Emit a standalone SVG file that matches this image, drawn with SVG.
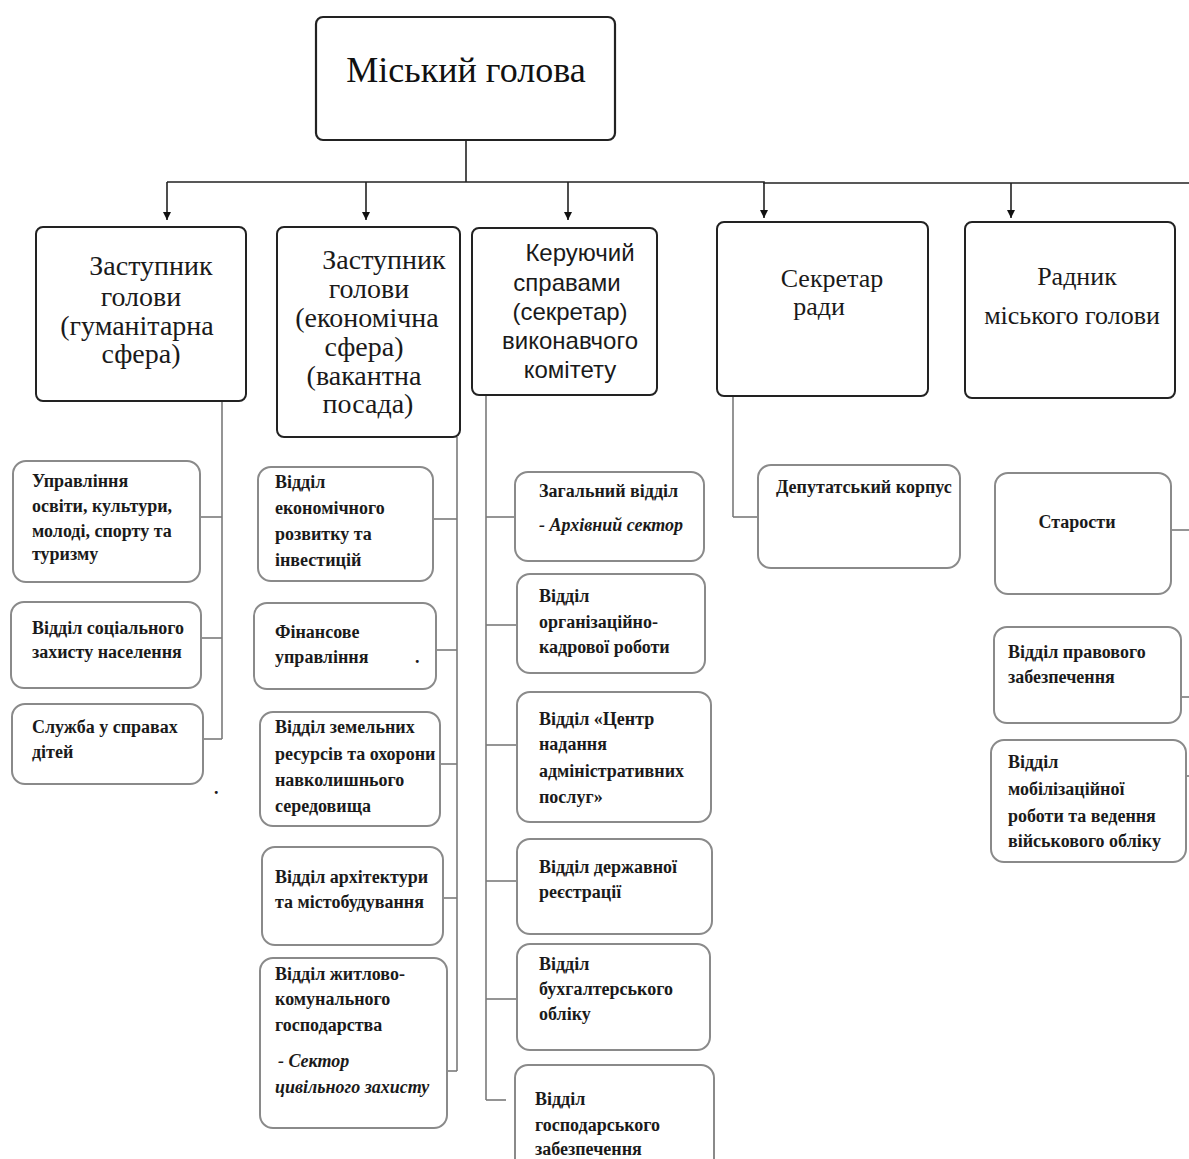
<svg xmlns="http://www.w3.org/2000/svg" width="1189" height="1159" viewBox="0 0 1189 1159">
<defs>
<marker id="arr" viewBox="0 0 10 10" refX="10" refY="5" markerWidth="8" markerHeight="8" markerUnits="userSpaceOnUse" orient="auto">
<path d="M0,0 L10,5 L0,10 z" fill="#111"/>
</marker>
<style>
.top{fill:#fff;stroke:#222;stroke-width:2.2}
.l2{fill:#fff;stroke:#222;stroke-width:2}
.l3{fill:#fff;stroke:#8a8a8a;stroke-width:2}
.c1{fill:none;stroke:#222;stroke-width:1.6}
.c2{fill:none;stroke:#7a7a7a;stroke-width:1.6}
.tt{font-family:"Liberation Serif",serif;font-size:36px;fill:#111}
.s2{font-family:"Liberation Serif",serif;font-size:28px;fill:#1a1a1a;text-anchor:middle}
.ss{font-family:"Liberation Sans",sans-serif;font-size:24px;fill:#1a1a1a;text-anchor:middle}
.s4{font-family:"Liberation Serif",serif;font-size:26px;fill:#1a1a1a;text-anchor:middle}
.b{font-family:"Liberation Serif",serif;font-size:18px;font-weight:bold;fill:#1a1a1a}
.bi{font-family:"Liberation Serif",serif;font-size:18px;font-weight:bold;font-style:italic;fill:#1a1a1a}
</style>
</defs>
<g id="connectors">
<line class="c1" x1="466" y1="140" x2="466" y2="182"/>
<polyline class="c1" points="167,182 764,182 764,183 983,183 1189,183"/>
<line class="c1" x1="167" y1="182" x2="167" y2="220" marker-end="url(#arr)"/>
<line class="c1" x1="366" y1="182" x2="366" y2="220" marker-end="url(#arr)"/>
<line class="c1" x1="568" y1="182" x2="568" y2="220" marker-end="url(#arr)"/>
<line class="c1" x1="764" y1="183" x2="764" y2="218" marker-end="url(#arr)"/>
<line class="c1" x1="1011" y1="183" x2="1011" y2="218" marker-end="url(#arr)"/>
<line class="c2" x1="222" y1="401" x2="222" y2="739"/>
<line class="c2" x1="200" y1="517" x2="222" y2="517"/>
<line class="c2" x1="201" y1="638" x2="222" y2="638"/>
<line class="c2" x1="203" y1="739" x2="222" y2="739"/>
<line class="c2" x1="457" y1="437" x2="457" y2="1071"/>
<line class="c2" x1="433" y1="519" x2="457" y2="519"/>
<line class="c2" x1="436" y1="650" x2="457" y2="650"/>
<line class="c2" x1="440" y1="764" x2="457" y2="764"/>
<line class="c2" x1="443" y1="898" x2="457" y2="898"/>
<line class="c2" x1="447" y1="1071" x2="457" y2="1071"/>
<line class="c2" x1="486" y1="395" x2="486" y2="1100"/>
<line class="c2" x1="486" y1="517" x2="515" y2="517"/>
<line class="c2" x1="486" y1="625" x2="517" y2="625"/>
<line class="c2" x1="486" y1="745" x2="517" y2="745"/>
<line class="c2" x1="486" y1="881" x2="517" y2="881"/>
<line class="c2" x1="486" y1="999" x2="517" y2="999"/>
<line class="c2" x1="486" y1="1100" x2="506" y2="1100"/>
<line class="c2" x1="733" y1="396" x2="733" y2="517"/>
<line class="c2" x1="733" y1="517" x2="758" y2="517"/>
<line class="c2" x1="1171" y1="530" x2="1189" y2="530"/>
<line class="c2" x1="1181" y1="697" x2="1189" y2="697"/>
<line class="c2" x1="1186" y1="776" x2="1189" y2="776"/>
</g>
<g id="mayor">
<rect class="top" x="316" y="17" width="299" height="123" rx="7"/>
<text class="tt" x="466" y="82" text-anchor="middle">Міський голова</text>
</g>
<g id="deputy-humanitarian">
<rect class="l2" x="36" y="227" width="210" height="174" rx="7"/>
<text class="s2" x="151" y="275">Заступник</text>
<text class="s2" x="141" y="306">голови</text>
<text class="s2" x="137" y="335">(гуманітарна</text>
<text class="s2" x="141" y="363">сфера)</text>
</g>
<g id="deputy-economic">
<rect class="l2" x="277" y="227" width="183" height="210" rx="7"/>
<text class="s2" x="384" y="269">Заступник</text>
<text class="s2" x="369" y="298">голови</text>
<text class="s2" x="367" y="327">(економічна</text>
<text class="s2" x="364" y="356">сфера)</text>
<text class="s2" x="364" y="385">(вакантна</text>
<text class="s2" x="368" y="413">посада)</text>
</g>
<g id="chief-of-staff">
<rect class="l2" x="472" y="228" width="185" height="167" rx="7"/>
<text class="ss" x="580" y="261">Керуючий</text>
<text class="ss" x="567" y="291">справами</text>
<text class="ss" x="570" y="320">(секретар)</text>
<text class="ss" x="570" y="349">виконавчого</text>
<text class="ss" x="570" y="378">комітету</text>
</g>
<g id="council-secretary">
<rect class="l2" x="717" y="222" width="211" height="174" rx="7"/>
<text class="s4" x="832" y="287">Секретар</text>
<text class="s4" x="819" y="315">ради</text>
</g>
<g id="advisor">
<rect class="l2" x="965" y="222" width="210" height="176" rx="7"/>
<text class="s4" x="1077" y="285">Радник</text>
<text class="s4" x="1072" y="324">міського голови</text>
</g>
<g id="edu">
<rect class="l3" x="13" y="461" width="187" height="121" rx="13"/>
<text class="b" x="32" y="487">Управління</text>
<text class="b" x="32" y="512">освіти, культури,</text>
<text class="b" x="32" y="537">молоді, спорту та</text>
<text class="b" x="32" y="560">туризму</text>
</g>
<g id="social">
<rect class="l3" x="11" y="602" width="190" height="86" rx="13"/>
<text class="b" x="32" y="634">Відділ соціального</text>
<text class="b" x="32" y="658">захисту населення</text>
</g>
<g id="children">
<rect class="l3" x="12" y="704" width="191" height="80" rx="13"/>
<text class="b" x="32" y="733">Служба у справах</text>
<text class="b" x="32" y="758">дітей</text>
</g>
<text class="b" x="214" y="794">.</text>
<g id="econ">
<rect class="l3" x="258" y="467" width="175" height="114" rx="13"/>
<text class="b" x="275" y="488">Відділ</text>
<text class="b" x="275" y="514">економічного</text>
<text class="b" x="275" y="540">розвитку та</text>
<text class="b" x="275" y="566">інвестицій</text>
</g>
<g id="finance">
<rect class="l3" x="254" y="603" width="182" height="86" rx="13"/>
<text class="b" x="275" y="638">Фінансове</text>
<text class="b" x="275" y="663">управління</text>
<text class="b" x="415" y="663">.</text>
</g>
<g id="land">
<rect class="l3" x="260" y="712" width="180" height="114" rx="13"/>
<text class="b" x="275" y="733">Відділ земельних</text>
<text class="b" x="275" y="760">ресурсів та охорони</text>
<text class="b" x="275" y="786">навколишнього</text>
<text class="b" x="275" y="812">середовища</text>
</g>
<g id="architecture">
<rect class="l3" x="262" y="847" width="181" height="98" rx="13"/>
<text class="b" x="275" y="883">Відділ архітектури</text>
<text class="b" x="275" y="908">та містобудування</text>
</g>
<g id="housing">
<rect class="l3" x="260" y="958" width="187" height="170" rx="13"/>
<text class="b" x="275" y="980">Відділ житлово-</text>
<text class="b" x="275" y="1005">комунального</text>
<text class="b" x="275" y="1031">господарства</text>
<text class="bi" x="278" y="1067">- Сектор</text>
<text class="bi" x="275" y="1093">цивільного захисту</text>
</g>
<g id="general">
<rect class="l3" x="515" y="472" width="189" height="89" rx="13"/>
<text class="b" x="539" y="497">Загальний відділ</text>
<text class="bi" x="539" y="531">- Архівний сектор</text>
</g>
<g id="hr">
<rect class="l3" x="517" y="574" width="188" height="99" rx="13"/>
<text class="b" x="539" y="602">Відділ</text>
<text class="b" x="539" y="628">організаційно-</text>
<text class="b" x="539" y="653">кадрової роботи</text>
</g>
<g id="cnap">
<rect class="l3" x="517" y="692" width="194" height="130" rx="13"/>
<text class="b" x="539" y="725">Відділ «Центр</text>
<text class="b" x="539" y="750">надання</text>
<text class="b" x="539" y="777">адміністративних</text>
<text class="b" x="539" y="803">послуг»</text>
</g>
<g id="registry">
<rect class="l3" x="517" y="839" width="195" height="95" rx="13"/>
<text class="b" x="539" y="873">Відділ державної</text>
<text class="b" x="539" y="898">реєстрації</text>
</g>
<g id="accounting">
<rect class="l3" x="517" y="944" width="193" height="106" rx="13"/>
<text class="b" x="539" y="970">Відділ</text>
<text class="b" x="539" y="995">бухгалтерського</text>
<text class="b" x="539" y="1020">обліку</text>
</g>
<g id="economic-support">
<rect class="l3" x="515" y="1065" width="199" height="120" rx="13"/>
<text class="b" x="535" y="1105">Відділ</text>
<text class="b" x="535" y="1131">господарського</text>
<text class="b" x="535" y="1155">забезпечення</text>
</g>
<g id="deputies">
<rect class="l3" x="758" y="465" width="202" height="103" rx="13"/>
<text class="b" x="776" y="493">Депутатський корпус</text>
</g>
<g id="starosty">
<rect class="l3" x="995" y="473" width="176" height="121" rx="13"/>
<text class="b" x="1077" y="528" text-anchor="middle">Старости</text>
</g>
<g id="legal">
<rect class="l3" x="994" y="627" width="187" height="96" rx="13"/>
<text class="b" x="1008" y="658">Відділ правового</text>
<text class="b" x="1008" y="683">забезпечення</text>
</g>
<g id="mobilization">
<rect class="l3" x="991" y="740" width="195" height="122" rx="13"/>
<text class="b" x="1008" y="768">Відділ</text>
<text class="b" x="1008" y="795">мобілізаційної</text>
<text class="b" x="1008" y="822">роботи та ведення</text>
<text class="b" x="1008" y="847">військового обліку</text>
</g>
</svg>
